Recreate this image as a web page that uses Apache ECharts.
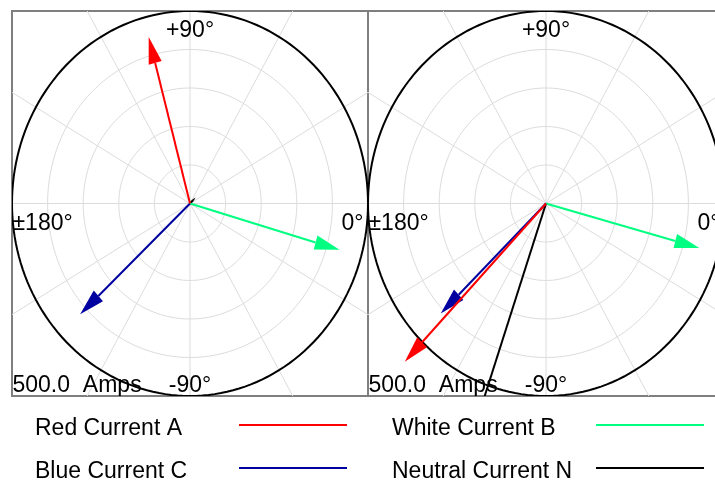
<!DOCTYPE html>
<html>
<head>
<meta charset="utf-8">
<script src="https://cdn.jsdelivr.net/npm/echarts@6/dist/echarts.min.js"></script>
<style>
  html, body { margin: 0; padding: 0; background: #ffffff; }
  #chart { width: 715px; height: 483px; }
</style>
</head>
<body>
<div id="chart"></div>
<script>
// Phasor diagrams: current magnitudes (A) and phase angles (degrees)
const phaseNames = ['Red Current A', 'White Current B', 'Blue Current C', 'Neutral Current N'];
const phaseColors = ['#ff0000', '#00ff80', '#0000a0', '#000000'];

const leftMagnitudes = [448, 437, 422, 22];
const leftAngles = [105, -16, -137, 45];

const rightMagnitudes = [571, 446, 411, 850];
const rightAngles = [-134, -15, -136, -109];

// Scale and grid
const fullScale = 500;
const ringValues = [100, 200, 300, 400];
const spokeAngles = [0, 30, 60, 90, 120, 150, 180, 210, 240, 270, 300, 330];
const scaleLabel = '500.0  Amps';
const angleLabels = { top: '+90°', left: '±180°', right: '0°', bottom: '-90°' };

const FONT = "'Liberation Sans', Arial, sans-serif";
const GRID_COLOR = '#dcdcdc';

const rad = d => d * Math.PI / 180;

// Polar grid (rings, spokes, outer boundary, angle labels) for one panel
function frameRenderItem(params, api) {
  const c = api.coord;
  const children = [];
  spokeAngles.forEach(a => {
    const p0 = c([0, 0]);
    const p1 = c([2 * fullScale * Math.cos(rad(a)), 2 * fullScale * Math.sin(rad(a))]);
    children.push({ type: 'line', shape: { x1: p0[0], y1: p0[1], x2: p1[0], y2: p1[1] },
      style: { stroke: GRID_COLOR, lineWidth: 1 } });
  });
  const ellipse = (r) => {
    const pts = [];
    for (let t = 0; t <= 360; t += 2) pts.push(c([r * Math.cos(rad(t)), r * Math.sin(rad(t))]));
    return pts;
  };
  ringValues.forEach(r => {
    children.push({ type: 'polyline', shape: { points: ellipse(r) },
      style: { stroke: GRID_COLOR, lineWidth: 1, fill: null } });
  });
  children.push({ type: 'polyline', shape: { points: ellipse(fullScale) },
    style: { stroke: '#000000', lineWidth: 2, fill: null } });

  const top = c([0, fullScale]);
  const bottom = c([0, -fullScale]);
  const left = c([-fullScale, 0]);
  const right = c([fullScale, 0]);
  const txt = (text, x, y, align) => ({
    type: 'text', z2: 50,
    style: { text, x, y, align, verticalAlign: 'middle', fill: '#000000', font: '23px ' + FONT }
  });
  children.push(txt(angleLabels.top, top[0], top[1] + 20, 'center'));
  children.push(txt(angleLabels.bottom, bottom[0], bottom[1] - 10, 'center'));
  children.push(txt(angleLabels.left, left[0] + 0.5, left[1] + 20, 'left'));
  children.push(txt(angleLabels.right, right[0] - 4.5, right[1] + 20, 'right'));
  children.push(txt(scaleLabel, left[0] + 0.5, bottom[1] - 10, 'left'));
  return { type: 'group', children };
}

// Arrow from the origin to the phasor tip
function arrowRenderItem(color) {
  return function (params, api) {
    const m = api.value(0);
    const a = rad(api.value(1));
    const ux = Math.cos(a), uy = Math.sin(a);
    const headLen = Math.min(70, m * 0.45);
    const half = headLen * 0.27;
    const tip = [m * ux, m * uy];
    const base = [(m - headLen) * ux, (m - headLen) * uy];
    const s1 = [base[0] - uy * half, base[1] + ux * half];
    const s2 = [base[0] + uy * half, base[1] - ux * half];
    const c = api.coord;
    const o = c([0, 0]);
    const b = c(base);
    return {
      type: 'group',
      children: [
        { type: 'line', shape: { x1: o[0], y1: o[1], x2: b[0], y2: b[1] },
          style: { stroke: color, lineWidth: 2 } },
        { type: 'polygon', shape: { points: [c(tip), c(s1), c(s2)] },
          style: { fill: color } }
      ]
    };
  };
}

const panels = [
  { mags: leftMagnitudes, angles: leftAngles },
  { mags: rightMagnitudes, angles: rightAngles }
];

const grids = [
  { left: 12, top: 11, width: 356, height: 385 },
  { left: 368, top: 11, width: 356, height: 385 }
].map(g => Object.assign(g, {
  show: true, borderColor: '#7f7f7f', borderWidth: 2, backgroundColor: '#ffffff',
  containLabel: false, outerBoundsMode: 'none'
}));

const axisBase = { type: 'value', min: -fullScale, max: fullScale, show: false };
const xAxes = grids.map((g, i) => Object.assign({ gridIndex: i }, axisBase));
const yAxes = grids.map((g, i) => Object.assign({ gridIndex: i }, axisBase));

const series = [];
panels.forEach((p, i) => {
  series.push({
    type: 'custom', xAxisIndex: i, yAxisIndex: i, clip: true, silent: true,
    renderItem: frameRenderItem, data: [[0, 0]], z: 1
  });
  // drawing order: neutral, white, blue, red on top
  [3, 1, 2, 0].forEach(k => {
    series.push({
      type: 'custom', name: phaseNames[k], xAxisIndex: i, yAxisIndex: i, clip: true,
      renderItem: arrowRenderItem(phaseColors[k]),
      encode: { x: -1, y: -1 },
      data: [[p.mags[k], p.angles[k]]], z: 2
    });
  });
});

// Legend: two columns of name + line sample
const legendCols = [35, 392];
const legendRows = [427.5, 470.5];
const legendGraphics = [];
phaseNames.forEach((name, k) => {
  const x = legendCols[k % 2];
  const y = legendRows[Math.floor(k / 2)];
  legendGraphics.push({
    type: 'text', left: x, top: y - 10,
    style: { text: name, fill: '#000000', font: '23px ' + FONT }
  });
  legendGraphics.push({
    type: 'line', shape: { x1: x + 204, y1: y - 2.5, x2: x + 312, y2: y - 2.5 },
    style: { stroke: phaseColors[k], lineWidth: 2 }
  });
});

const chart = echarts.init(document.getElementById('chart'), null, { renderer: 'canvas' });
chart.setOption({
  animation: false,
  backgroundColor: '#ffffff',
  grid: grids,
  xAxis: xAxes,
  yAxis: yAxes,
  series,
  graphic: legendGraphics
});
</script>
</body>
</html>
